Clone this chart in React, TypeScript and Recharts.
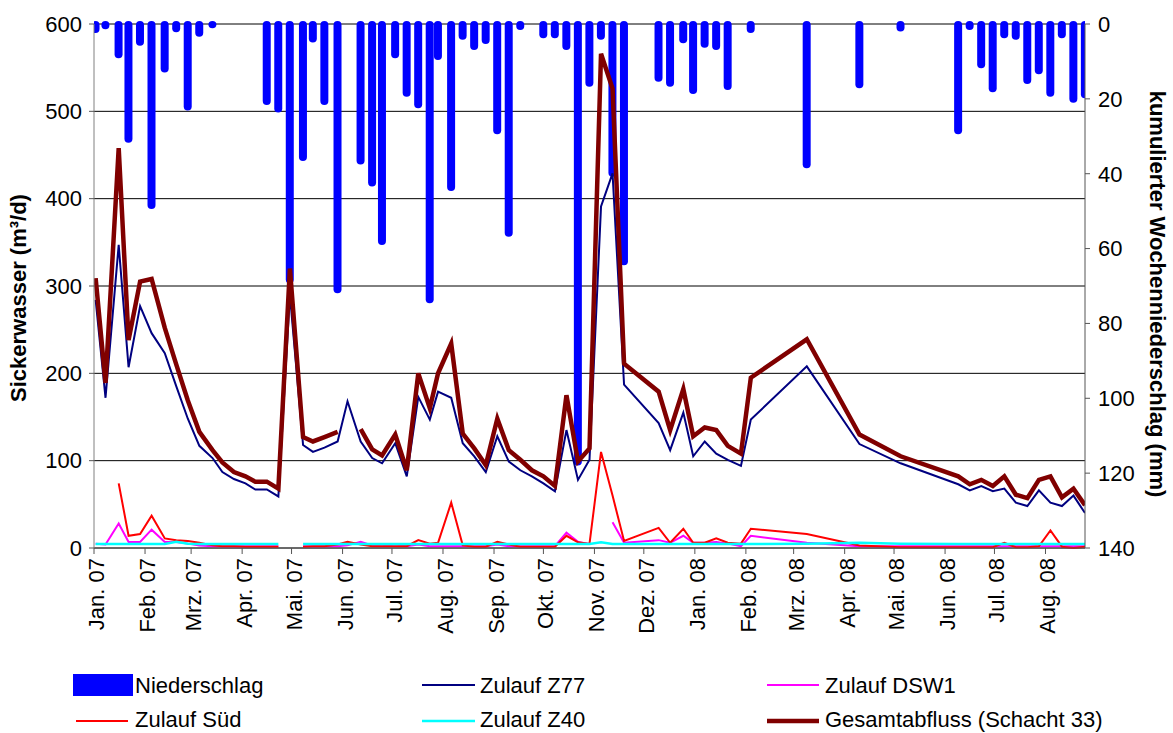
import React from 'react'
import { ComposedChart, Bar, Line, XAxis, YAxis, CartesianGrid } from 'recharts'

const FONT = '"Liberation Sans", Arial, sans-serif'

// Messtage, gezählt in Tagen ab 1.1.2007
const days = [
  1, 7, 15, 21, 28, 35, 43, 50, 57, 64,
  72, 78, 85, 92, 98, 105, 112, 119, 127, 133,
  140, 148, 154, 162, 169, 175, 183, 190, 197, 204,
  209, 217, 224, 231, 238, 245, 252, 259, 266, 273,
  280, 287, 294, 301, 308, 315, 322, 343, 350, 358,
  364, 371, 378, 385, 393, 399, 433, 465, 490, 525,
  532, 539, 546, 553, 560, 567, 574, 581, 588, 595,
  602,
]

// kumulierter Wochenniederschlag (mm)
const niederschlag = [
  1.5, 0.5, 8.2, 30.8, 4.9, 48.5, 12.0, 1.3, 22.2, 2.5,
  0.2, null, null, null, null, 20.7, 22.7, 68.4, 35.7, 4.0,
  20.7, 71.0, null, 36.6, 42.5, 58.1, 8.2, 18.5, 21.6, 73.7,
  8.7, 43.7, 3.3, 6.0, 4.4, 28.5, 55.9, 0.7, null, 2.9,
  2.9, 6.0, 117.0, 15.8, 3.3, 39.9, 63.5, 14.5, 15.8, 4.2,
  17.8, 5.4, 6.0, 16.7, null, 1.5, 37.6, 16.2, 1.1, 28.5,
  0.7, 10.9, 17.3, 2.9, 3.3, 15.1, 12.5, 18.5, 2.9, 20.1,
  18.9,
]

// Sickerwasser (m³/d)
const zulaufZ77 = [
  284, 172, 347, 207, 277, 246, 223, 185, 148, 117,
  103, 87, 79, 74, 67, 67, 59, 290, 118, 110,
  115, 122, 168, 122, 103, 97, 120, 82, 173, 147,
  179, 172, 120, 105, 87, 128, 99, 89, 82, 74,
  65, 135, 78, 101, 391, 429, 187, 143, 112, 155,
  105, 122, 108, 101, 94, 147, 208, 119, 97, 73,
  66, 71, 65, 68, 52, 48, 66, 52, 48, 60,
  40,
]

const zulaufDSW1 = [
  5, 4, 28, 7, 7, 21, 7, 7, 5, 3,
  2, 2, 2, 2, 2, 2, 2, null, 2, 2,
  2, 2, 3, 7, 3, 2, 4, 2, 4, 2,
  2, 2, 2, 2, 2, 4, 2, 2, 2, 2,
  2, 17.5, 7, 4.6, null, 29.5, 6, 9, 6, 14,
  6, 6, 7, 5, 2, 14, 6, 2, 2, 2,
  2, 2, 2, 2, 2, 2, 2, 2, 2, 2,
  2,
]

const zulaufSued = [
  null, null, 74, 14, 16, 37, 11, 9, 8, 6,
  3, 2, 2, 1.5, 1.5, 1.5, 1.5, null, 1.5, 2,
  2, 4, 7, 4, 2, 2, 2, 2, 9, 5,
  6, 52, 3, 1.5, 1.5, 7, 4, 1.5, 1.5, 1.5,
  1.5, 14, 6.5, 4.6, 110, 60, 8, 23, 6, 22,
  6, 6, 11, 6, 5, 22, 16, 3, 1, 1,
  1, 1, 1, 6, 1, 1, 2, 20, 1.5, 0,
  1.5,
]

const zulaufZ40 = [
  4.5, 4.5, 4.5, 4.5, 4.5, 4.5, 4.5, 7, 5, 4.5,
  4.5, 4.5, 4.5, 4.5, 4.5, 4.5, 4.5, null, 4.5, 4.5,
  4.5, 4.5, 4.5, 4.5, 4.5, 4.5, 4.5, 4.5, 4.5, 4.5,
  4.5, 4.5, 4.5, 4.5, 4.5, 4.5, 4.5, 4.5, 4.5, 4.5,
  4.5, 4.5, 4.5, 4.5, 6.5, 4.5, 4.5, 4.5, 4.5, 4.5,
  4.5, 4.5, 4.5, 4.5, 4.5, 4.5, 5, 6, 5, 4.5,
  4.5, 4.5, 4.5, 4.5, 4.5, 4.5, 4.5, 4.5, 4.5, 4.5,
  4.5,
]

const gesamtabfluss = [
  309, 189, 458, 238, 305, 308, 252, 210, 169, 133,
  112, 98, 87, 82, 76, 76, 68, 320, 127, 122,
  127, 133, null, 136, 113, 106, 130, 89, 200, 160,
  200, 234, 131, 114, 95, 148, 112, 101, 89, 82,
  71, 175, 99, 114, 566, 526, 211, 179, 135, 182,
  128, 138, 135, 117, 108, 195, 239, 130, 105, 82,
  73, 78, 71, 82, 61, 57, 78, 82, 58, 68,
  49,
]

const monthTicks = [0, 31, 59, 90, 120, 151, 181, 212, 243, 273, 304, 334, 365, 396, 425, 456, 486, 517, 547, 578]
const monthLabels = [
  'Jan. 07', 'Feb. 07', 'Mrz. 07', 'Apr. 07', 'Mai. 07', 'Jun. 07', 'Jul. 07', 'Aug. 07', 'Sep. 07', 'Okt. 07',
  'Nov. 07', 'Dez. 07', 'Jan. 08', 'Feb. 08', 'Mrz. 08', 'Apr. 08', 'Mai. 08', 'Jun. 08', 'Jul. 08', 'Aug. 08',
]
const leftTicks = [0, 100, 200, 300, 400, 500, 600]
const rightTicks = [0, 20, 40, 60, 80, 100, 120, 140]

const data = days.map((day, i) => ({
  day,
  rain: niederschlag[i],
  z77: zulaufZ77[i],
  dsw1: zulaufDSW1[i],
  sued: zulaufSued[i],
  z40: zulaufZ40[i],
  gesamt: gesamtabfluss[i],
}))

// Niederschlagsbalken hängen von oben, mit runden Enden
function RainBar(props: any) {
  const { x, y, width, height, payload } = props
  if (!payload || payload.rain == null) return null
  const top = Math.min(y, y + height)
  const h = Math.abs(height)
  const r = width / 2
  return <rect x={x} y={top - 3} width={width} height={h + 6.5} rx={r} ry={r} fill="#0000FF" />
}

function MonthTick({ x, y, payload }: any) {
  const label = monthLabels[monthTicks.indexOf(payload.value)]
  return (
    <text
      x={x}
      y={y}
      dy={10}
      transform={`rotate(-90, ${x}, ${y})`}
      textAnchor="end"
      fontSize={22}
      fontFamily={FONT}
      fill="#000"
    >
      {label}
    </text>
  )
}

const tickStyle = { fontSize: 22, fontFamily: FONT, fill: '#000' }

export default function App() {
  return (
    <div style={{ position: 'absolute', left: 0, top: 0, width: 1173, height: 733, background: '#fff' }}>
      <ComposedChart width={1173} height={733} data={data} margin={{ top: 24, right: 0, bottom: 0, left: 0 }}>
        <CartesianGrid yAxisId="left" vertical={false} stroke="#000" />
        <XAxis
          type="number"
          dataKey="day"
          domain={[0, 602]}
          ticks={monthTicks}
          interval={0}
          allowDataOverflow
          height={185}
          tickSize={6}
          tickMargin={4}
          tick={<MonthTick />}
          axisLine={{ stroke: '#555' }}
          tickLine={{ stroke: '#555' }}
        />
        <YAxis
          yAxisId="left"
          domain={[0, 600]}
          ticks={leftTicks}
          width={94}
          tickSize={5}
          tickMargin={7}
          tick={tickStyle}
          axisLine={{ stroke: '#808080' }}
          tickLine={{ stroke: '#555' }}
        />
        <YAxis
          yAxisId="right"
          orientation="right"
          reversed
          domain={[0, 140]}
          ticks={rightTicks}
          width={88}
          tickSize={5}
          tickMargin={8}
          tick={tickStyle}
          axisLine={{ stroke: '#555' }}
          tickLine={{ stroke: '#555' }}
        />
        <Bar yAxisId="right" dataKey="rain" barSize={8} shape={<RainBar />} isAnimationActive={false} />
        <Line yAxisId="left" type="linear" dataKey="z77" stroke="#000080" strokeWidth={2} dot={false} isAnimationActive={false} />
        <Line yAxisId="left" type="linear" dataKey="dsw1" stroke="#FF00FF" strokeWidth={2} dot={false} isAnimationActive={false} />
        <Line yAxisId="left" type="linear" dataKey="sued" stroke="#FF0000" strokeWidth={2} dot={false} isAnimationActive={false} />
        <Line yAxisId="left" type="linear" dataKey="z40" stroke="#00FFFF" strokeWidth={2.5} dot={false} isAnimationActive={false} />
        <Line yAxisId="left" type="linear" dataKey="gesamt" stroke="#800000" strokeWidth={4.5} dot={false} isAnimationActive={false} />
      </ComposedChart>

      {/* Achsentitel und Legende */}
      <svg
        width={1173}
        height={733}
        style={{ position: 'absolute', left: 0, top: 0, pointerEvents: 'none', overflow: 'visible' }}
      >
        <text
          x={26}
          y={298}
          transform="rotate(-90, 26, 298)"
          textAnchor="middle"
          fontSize={22}
          fontWeight="bold"
          fontFamily={FONT}
        >
          Sickerwasser (m³/d)
        </text>
        <text
          x={1150}
          y={294}
          transform="rotate(90, 1150, 294)"
          textAnchor="middle"
          fontSize={22}
          fontWeight="bold"
          fontFamily={FONT}
        >
          kumulierter Wochenniederschlag (mm)
        </text>

        <g fontSize={22} fontFamily={FONT} fill="#000">
          <rect x={73} y={674} width={60} height={22} fill="#0000FF" />
          <text x={135} y={693}>Niederschlag</text>
          <line x1={422} y1={685} x2={475} y2={685} stroke="#000080" strokeWidth={2} />
          <text x={480} y={693}>Zulauf Z77</text>
          <line x1={767} y1={685} x2={819} y2={685} stroke="#FF00FF" strokeWidth={2} />
          <text x={825} y={693}>Zulauf DSW1</text>

          <line x1={76} y1={721} x2={128} y2={721} stroke="#FF0000" strokeWidth={2} />
          <text x={135} y={727}>Zulauf Süd</text>
          <line x1={422} y1={721} x2={475} y2={721} stroke="#00FFFF" strokeWidth={2.5} />
          <text x={480} y={727}>Zulauf Z40</text>
          <line x1={767} y1={721} x2={819} y2={721} stroke="#800000" strokeWidth={4.5} />
          <text x={825} y={727}>Gesamtabfluss (Schacht 33)</text>
        </g>
      </svg>
    </div>
  )
}
